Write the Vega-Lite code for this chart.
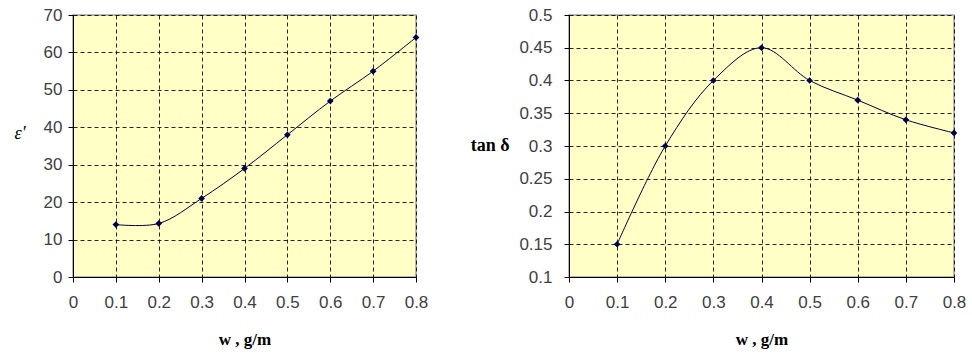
{
  "$schema": "https://vega.github.io/schema/vega-lite/v6.json",
  "padding": {"top": 5, "left": 13, "right": 0, "bottom": 2},
  "spacing": 40,
  "datasets": {
    "eps": [
      {"w": 0.1, "v": 14}, {"w": 0.2, "v": 14.3}, {"w": 0.3, "v": 21}, {"w": 0.4, "v": 29},
      {"w": 0.5, "v": 38}, {"w": 0.6, "v": 47}, {"w": 0.7, "v": 55}, {"w": 0.8, "v": 64}
    ],
    "tan": [
      {"w": 0.1, "v": 0.15}, {"w": 0.2, "v": 0.30}, {"w": 0.3, "v": 0.40}, {"w": 0.4, "v": 0.45},
      {"w": 0.5, "v": 0.40}, {"w": 0.6, "v": 0.37}, {"w": 0.7, "v": 0.34}, {"w": 0.8, "v": 0.32}
    ]
  },
  "config": {
    "view": {"fill": "#FFFFC6", "stroke": "#A0A0A0", "strokeWidth": 1.5},
    "axis": {
      "labelFont": "Liberation Sans", "labelFontSize": 17, "labelColor": "#404040", "labelFlush": false,
      "domainColor": "#000000", "tickColor": "#000000", "tickSize": 5,
      "grid": true, "gridColor": "#000000", "gridDash": [4, 3], "gridOpacity": 0.85,
      "titleFont": "Liberation Serif", "titleColor": "#000000"
    }
  },
  "hconcat": [
    {
      "width": 343, "height": 262,
      "data": {"name": "eps"},
      "encoding": {
        "x": {"field": "w", "type": "quantitative", "scale": {"domain": [0, 0.8], "nice": false},
              "axis": {"values": [0, 0.1, 0.2, 0.3, 0.4, 0.5, 0.6, 0.7, 0.8], "format": "~g", "labelPadding": 12,
                       "title": "w , g/m", "titleFontSize": 17, "titleFontWeight": "bold", "titlePadding": 21}},
        "y": {"field": "v", "type": "quantitative", "scale": {"domain": [0, 70], "nice": false},
              "axis": {"values": [0, 10, 20, 30, 40, 50, 60, 70], "labelPadding": 6,
                       "title": "ε'", "titleAngle": 0, "titleAlign": "right", "titleBaseline": "middle", "titleX": -48, "titleY": 118,
                       "titleFontStyle": "italic", "titleFontWeight": "normal", "titleFontSize": 18}}
      },
      "layer": [
        {"mark": {"type": "line", "interpolate": "catmull-rom", "color": "#000033", "strokeWidth": 1}},
        {"mark": {"type": "point", "shape": "diamond", "filled": true, "size": 45, "color": "#000050", "opacity": 1}}
      ]
    },
    {
      "width": 385, "height": 262,
      "data": {"name": "tan"},
      "encoding": {
        "x": {"field": "w", "type": "quantitative", "scale": {"domain": [0, 0.8], "nice": false},
              "axis": {"values": [0, 0.1, 0.2, 0.3, 0.4, 0.5, 0.6, 0.7, 0.8], "format": "~g", "labelPadding": 12,
                       "title": "w , g/m", "titleFontSize": 17, "titleFontWeight": "bold", "titlePadding": 21}},
        "y": {"field": "v", "type": "quantitative", "scale": {"domain": [0.1, 0.5], "nice": false, "zero": false},
              "axis": {"values": [0.1, 0.15, 0.2, 0.25, 0.3, 0.35, 0.4, 0.45, 0.5], "format": "~g", "labelPadding": 12,
                       "title": "tan δ", "titleAngle": 0, "titleAlign": "right", "titleBaseline": "middle", "titleX": -60, "titleY": 130,
                       "titleFontWeight": "bold", "titleFontSize": 18}}
      },
      "layer": [
        {"mark": {"type": "line", "interpolate": "catmull-rom", "color": "#000033", "strokeWidth": 1}},
        {"mark": {"type": "point", "shape": "diamond", "filled": true, "size": 45, "color": "#000050", "opacity": 1}}
      ]
    }
  ]
}
